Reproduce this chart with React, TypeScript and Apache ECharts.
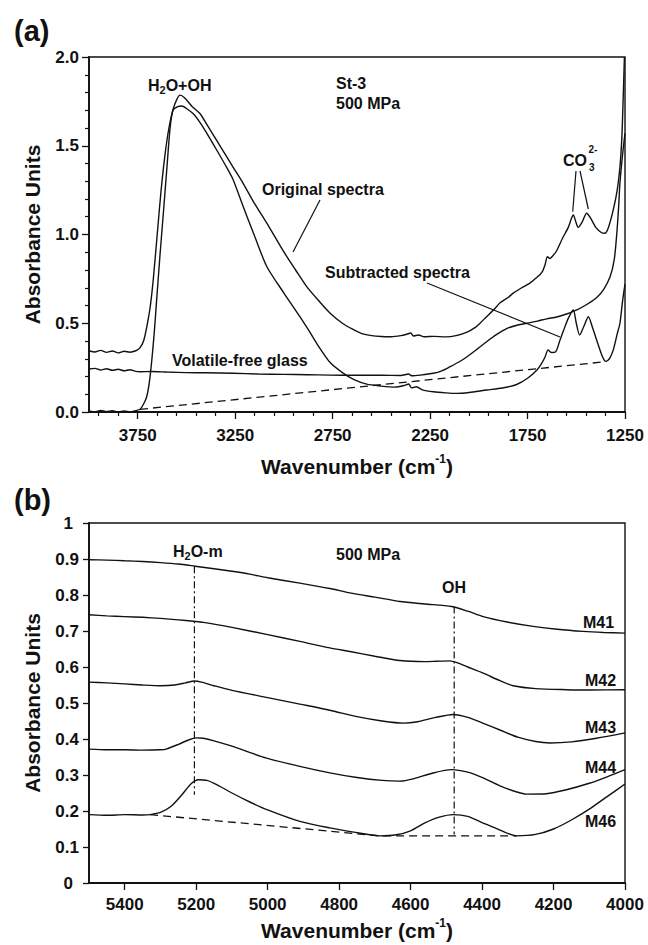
import React, { useEffect, useRef } from "react";
import * as echarts from "echarts";

const FONT = '"Liberation Sans", Arial, Helvetica, sans-serif';
const INK = "#111";

// ---------- Panel (a): wavenumber (cm-1), absorbance ----------
const originalSpectrum: [number, number][] = [
  [4000, 0.345], [3970, 0.338], [3940, 0.347], [3910, 0.336], [3880, 0.344], [3850, 0.333],
  [3820, 0.342], [3790, 0.337], [3760, 0.345], [3740, 0.36], [3720, 0.4], [3700, 0.5],
  [3685, 0.6], [3670, 0.75], [3650, 1.0], [3630, 1.25], [3610, 1.45], [3590, 1.6],
  [3570, 1.7], [3550, 1.76], [3533, 1.785], [3510, 1.77], [3470, 1.72], [3430, 1.68],
  [3390, 1.61], [3345, 1.53], [3300, 1.45], [3261, 1.38], [3210, 1.29], [3159, 1.19],
  [3080, 1.05], [3005, 0.91], [2940, 0.8], [2883, 0.706], [2820, 0.625], [2764, 0.558],
  [2700, 0.5], [2650, 0.468], [2600, 0.442], [2550, 0.43], [2500, 0.425], [2450, 0.424],
  [2400, 0.43], [2370, 0.438], [2350, 0.445], [2335, 0.428], [2310, 0.434], [2280, 0.424],
  [2230, 0.426], [2170, 0.423], [2117, 0.43], [2060, 0.45], [2020, 0.475], [1994, 0.5],
  [1960, 0.537], [1920, 0.58], [1891, 0.615], [1850, 0.645], [1823, 0.67], [1780, 0.7],
  [1740, 0.725], [1700, 0.76], [1675, 0.79], [1660, 0.83], [1648, 0.875], [1635, 0.865],
  [1620, 0.88], [1600, 0.91], [1570, 0.98], [1541, 1.04], [1525, 1.09], [1515, 1.11],
  [1502, 1.07], [1490, 1.04], [1470, 1.07], [1447, 1.12], [1425, 1.09], [1400, 1.04],
  [1370, 1.01], [1353, 1.007], [1335, 1.04], [1310, 1.14], [1290, 1.25], [1276, 1.38],
  [1266, 1.55], [1259, 1.78], [1253, 2.0],
];

const subtractedSpectrum: [number, number][] = [
  [4000, 0.006], [3970, 0.0], [3940, 0.009], [3910, 0.002], [3880, 0.007], [3850, 0.0],
  [3820, 0.006], [3790, 0.001], [3760, 0.008], [3738, 0.015], [3720, 0.045], [3704, 0.086],
  [3690, 0.17], [3678, 0.29], [3665, 0.45], [3653, 0.63], [3636, 0.88], [3620, 1.1],
  [3600, 1.38], [3584, 1.6], [3569, 1.7], [3545, 1.72], [3524, 1.724], [3500, 1.71],
  [3465, 1.68], [3430, 1.63], [3390, 1.56], [3345, 1.476], [3300, 1.39], [3261, 1.31],
  [3210, 1.16], [3150, 0.99], [3088, 0.82], [3000, 0.67], [2918, 0.537], [2870, 0.455],
  [2832, 0.387], [2764, 0.28], [2700, 0.222], [2640, 0.182], [2575, 0.157], [2500, 0.146],
  [2430, 0.14], [2380, 0.15], [2360, 0.158], [2345, 0.136], [2320, 0.142], [2290, 0.125],
  [2233, 0.114], [2170, 0.108], [2114, 0.105], [2050, 0.11], [1960, 0.124], [1880, 0.135],
  [1806, 0.155], [1750, 0.19], [1703, 0.235], [1680, 0.27], [1660, 0.31], [1645, 0.35],
  [1628, 0.335], [1605, 0.34], [1585, 0.4], [1565, 0.46], [1540, 0.53], [1515, 0.575],
  [1500, 0.5], [1483, 0.434], [1462, 0.48], [1438, 0.537], [1415, 0.47], [1390, 0.387],
  [1365, 0.31], [1348, 0.285], [1330, 0.3], [1310, 0.35], [1290, 0.44], [1276, 0.5],
  [1263, 0.62], [1250, 0.72],
];

const glassSpectrum: [number, number][] = [
  [4000, 0.242], [3970, 0.246], [3940, 0.236], [3910, 0.244], [3880, 0.235], [3850, 0.241],
  [3820, 0.232], [3790, 0.238], [3760, 0.229], [3738, 0.227], [3680, 0.228], [3600, 0.225],
  [3500, 0.222], [3400, 0.221], [3261, 0.218], [3130, 0.214], [3000, 0.212], [2880, 0.21],
  [2764, 0.208], [2640, 0.207], [2500, 0.207], [2400, 0.206], [2360, 0.214], [2345, 0.204],
  [2300, 0.208], [2233, 0.218], [2190, 0.232], [2148, 0.255], [2100, 0.283], [2062, 0.31],
  [2010, 0.353], [1960, 0.396], [1910, 0.436], [1857, 0.47], [1800, 0.49], [1755, 0.5],
  [1700, 0.512], [1652, 0.525], [1600, 0.535], [1550, 0.552], [1497, 0.575], [1440, 0.61],
  [1395, 0.645], [1360, 0.69], [1327, 0.76], [1305, 0.86], [1292, 1.007], [1283, 1.15],
  [1276, 1.29], [1267, 1.4], [1260, 1.476], [1250, 1.57],
];

const baselineA: [number, number][] = [[3738, 0.015], [1353, 0.283]];

// ---------- Panel (b) ----------
const m41: [number, number][] = [
  [5500, 0.898], [5450, 0.897], [5400, 0.895], [5350, 0.893], [5300, 0.89], [5250, 0.886],
  [5203, 0.88], [5150, 0.873], [5100, 0.866], [5050, 0.858], [5000, 0.848], [4910, 0.833],
  [4826, 0.818], [4770, 0.806], [4700, 0.794], [4630, 0.782], [4560, 0.775], [4485, 0.768],
  [4440, 0.755], [4397, 0.74], [4330, 0.725], [4257, 0.713], [4190, 0.705], [4117, 0.699],
  [4060, 0.696], [4000, 0.694],
];
const m42: [number, number][] = [
  [5500, 0.745], [5450, 0.742], [5400, 0.74], [5350, 0.738], [5300, 0.735], [5250, 0.731],
  [5208, 0.727], [5180, 0.724], [5100, 0.71], [5000, 0.69], [4910, 0.671], [4826, 0.653],
  [4770, 0.643], [4700, 0.63], [4630, 0.618], [4560, 0.615], [4527, 0.616], [4490, 0.617],
  [4470, 0.612], [4440, 0.6], [4397, 0.583], [4350, 0.562], [4313, 0.548], [4250, 0.54],
  [4164, 0.537], [4100, 0.536], [4000, 0.537],
];
const m43: [number, number][] = [
  [5500, 0.558], [5450, 0.556], [5400, 0.553], [5350, 0.55], [5300, 0.548], [5260, 0.55],
  [5230, 0.556], [5205, 0.561], [5185, 0.558], [5150, 0.548], [5100, 0.535], [5000, 0.515],
  [4910, 0.497], [4826, 0.48], [4750, 0.462], [4680, 0.45], [4620, 0.444], [4580, 0.448],
  [4530, 0.46], [4480, 0.468], [4440, 0.46], [4400, 0.445], [4350, 0.425], [4300, 0.405],
  [4250, 0.393], [4210, 0.389], [4150, 0.392], [4080, 0.402], [4000, 0.417],
];
const m44: [number, number][] = [
  [5500, 0.372], [5450, 0.37], [5400, 0.37], [5350, 0.369], [5300, 0.37], [5284, 0.372],
  [5250, 0.385], [5220, 0.398], [5200, 0.403], [5180, 0.402], [5150, 0.395], [5100, 0.38],
  [5003, 0.347], [4910, 0.324], [4826, 0.306], [4750, 0.293], [4680, 0.285], [4630, 0.283],
  [4590, 0.29], [4540, 0.305], [4486, 0.315], [4440, 0.308], [4397, 0.292], [4350, 0.27],
  [4300, 0.252], [4276, 0.247], [4220, 0.248], [4164, 0.259], [4100, 0.277], [4050, 0.295],
  [4000, 0.315],
];
const m46: [number, number][] = [
  [5500, 0.19], [5450, 0.188], [5400, 0.19], [5350, 0.189], [5329, 0.19], [5300, 0.196],
  [5270, 0.213], [5240, 0.245], [5215, 0.275], [5194, 0.287], [5170, 0.285], [5140, 0.272],
  [5100, 0.25], [5050, 0.225], [5000, 0.203], [4910, 0.171], [4826, 0.153], [4750, 0.14],
  [4686, 0.131], [4640, 0.134], [4600, 0.145], [4560, 0.167], [4520, 0.183], [4480, 0.19],
  [4440, 0.185], [4400, 0.168], [4350, 0.147], [4303, 0.131], [4250, 0.135], [4200, 0.15],
  [4150, 0.175], [4100, 0.205], [4050, 0.24], [4000, 0.275],
];
const baselineB: [number, number][] = [[5329, 0.19], [4686, 0.131], [4303, 0.131]];
const h2omMarker: [number, number][] = [[5205, 0.88], [5205, 0.245]];
const ohMarker: [number, number][] = [[4478, 0.768], [4478, 0.135]];

// ---------- Tick values ----------
const aMajorTicks = [1250, 1750, 2250, 2750, 3250, 3750];
const aMinorTicks = [
  1350, 1450, 1550, 1650, 1850, 1950, 2050, 2150, 2350, 2450, 2550, 2650,
  2850, 2950, 3050, 3150, 3350, 3450, 3550, 3650, 3850, 3950,
];
const bXTicks = [4000, 4200, 4400, 4600, 4800, 5000, 5200, 5400];

const spectrumStyle = { color: INK, width: 1.4 };

function lineSeries(data: [number, number][], xi: number, yi: number, extra: any = {}) {
  return {
    type: "line",
    data,
    xAxisIndex: xi,
    yAxisIndex: yi,
    symbol: "none",
    smooth: 0.25,
    lineStyle: { ...spectrumStyle },
    silent: true,
    ...extra,
  };
}

const txt = (text: string, x: number, y: number, size = 16, extra: any = {}) => ({
  type: "text",
  x,
  y,
  silent: true,
  style: {
    text,
    fill: INK,
    font: `bold ${size}px ${FONT}`,
    verticalAlign: "middle",
    align: "left",
    ...extra,
  },
});

const richSub = {
  m: { fontSize: 16, fontWeight: "bold", fontFamily: FONT, color: INK, lineHeight: 20 },
  s: { fontSize: 11, fontWeight: "bold", fontFamily: FONT, color: INK, lineHeight: 8, verticalAlign: "bottom" },
};

const richText = (text: string, x: number, y: number) => ({
  type: "text",
  x,
  y,
  silent: true,
  style: { text, rich: richSub, verticalAlign: "middle", align: "left", fill: INK, font: `bold 16px ${FONT}` },
});

const ln = (x1: number, y1: number, x2: number, y2: number) => ({
  type: "line",
  silent: true,
  shape: { x1, y1, x2, y2 },
  style: { stroke: INK, lineWidth: 1.2 },
});

const axisNameRich = {
  m: { fontSize: 21, fontWeight: "bold", fontFamily: FONT, color: INK, lineHeight: 26 },
  s: { fontSize: 12, fontWeight: "bold", fontFamily: FONT, color: INK, lineHeight: 12, verticalAlign: "top" },
};

const tickLabel = { color: INK, fontSize: 17, fontWeight: "bold", fontFamily: FONT };

export default function App() {
  const ref = useRef<HTMLDivElement>(null);
  useEffect(() => {
    document.body.style.margin = "0";
    if (!ref.current) return;
    const chart = echarts.init(ref.current, null, { renderer: "svg" });
    const option: any = {
      animation: false,
      backgroundColor: "#fff",
      grid: [
        { left: 89, top: 57, width: 536, height: 355, show: true, borderColor: INK, borderWidth: 1.4, backgroundColor: "transparent" },
        { left: 89, top: 523, width: 536, height: 360, show: true, borderColor: INK, borderWidth: 1.4, backgroundColor: "transparent" },
      ],
      xAxis: [
        {
          type: "value", gridIndex: 0, inverse: true, min: 1250, max: 4000, position: "bottom",
          axisLine: { show: true, onZero: false, lineStyle: { color: INK, width: 1.8 } },
          axisTick: { show: true, inside: false, length: 7, customValues: aMajorTicks, lineStyle: { color: INK, width: 1.3 } },
          axisLabel: { ...tickLabel, margin: 15, customValues: aMajorTicks, formatter: (v: number) => String(v) },
          splitLine: { show: false },
          name: "{m|Wavenumber (cm}{s|-1}{m|)}",
          nameLocation: "middle",
          nameGap: 41,
          nameTextStyle: { rich: axisNameRich },
        },
        {
          type: "value", gridIndex: 0, inverse: true, min: 1250, max: 4000, position: "bottom",
          axisLine: { show: false, onZero: false },
          axisTick: { show: true, inside: false, length: 4, customValues: aMinorTicks, lineStyle: { color: INK, width: 1.2 } },
          axisLabel: { show: false },
          splitLine: { show: false },
        },
        {
          type: "value", gridIndex: 1, inverse: true, min: 4000, max: 5500, interval: 200, position: "bottom",
          axisLine: { show: true, onZero: false, lineStyle: { color: INK, width: 1.8 } },
          axisTick: { show: true, inside: false, length: 7, customValues: bXTicks, lineStyle: { color: INK, width: 1.3 } },
          axisLabel: { ...tickLabel, margin: 13, customValues: bXTicks, formatter: (v: number) => String(v) },
          splitLine: { show: false },
          name: "{m|Wavenumber (cm}{s|-1}{m|)}",
          nameLocation: "middle",
          nameGap: 34,
          nameTextStyle: { rich: axisNameRich },
        },
      ],
      yAxis: [
        {
          type: "value", gridIndex: 0, min: 0, max: 2, interval: 0.5,
          axisLine: { show: true, onZero: false, lineStyle: { color: INK, width: 1.8 } },
          axisTick: { show: true, inside: false, length: 7, lineStyle: { color: INK, width: 1.3 } },
          minorTick: { show: true, splitNumber: 5, length: 4, lineStyle: { color: INK, width: 1.2 } },
          axisLabel: { ...tickLabel, margin: 10, formatter: (v: number) => v.toFixed(1) },
          splitLine: { show: false },
          minorSplitLine: { show: false },
          name: "Absorbance Units",
          nameLocation: "middle",
          nameGap: 46,
          nameTextStyle: { fontSize: 21, fontWeight: "bold", fontFamily: FONT, color: INK },
        },
        {
          type: "value", gridIndex: 1, min: 0, max: 1, interval: 0.1,
          axisLine: { show: true, onZero: false, lineStyle: { color: INK, width: 1.8 } },
          axisTick: { show: true, inside: false, length: 6, lineStyle: { color: INK, width: 1.3 } },
          axisLabel: {
            ...tickLabel, margin: 10,
            formatter: (v: number) =>
              Math.abs(v) < 1e-9 ? "{w|0}" : Math.abs(v - 1) < 1e-9 ? "{w|1}" : v.toFixed(1),
            rich: { w: { ...tickLabel, padding: [0, 6, 0, 0] } },
          },
          splitLine: { show: false },
          name: "Absorbance Units",
          nameLocation: "middle",
          nameGap: 46,
          nameTextStyle: { fontSize: 21, fontWeight: "bold", fontFamily: FONT, color: INK },
        },
      ],
      series: [
        lineSeries(originalSpectrum, 0, 0),
        lineSeries(glassSpectrum, 0, 0),
        lineSeries(subtractedSpectrum, 0, 0),
        lineSeries(baselineA, 0, 0, { smooth: false, lineStyle: { color: INK, width: 1.3, type: [8, 5] } }),
        lineSeries(m41, 2, 1),
        lineSeries(m42, 2, 1),
        lineSeries(m43, 2, 1),
        lineSeries(m44, 2, 1),
        lineSeries(m46, 2, 1),
        lineSeries(baselineB, 2, 1, { smooth: false, lineStyle: { color: INK, width: 1.3, type: [8, 5] } }),
        lineSeries(h2omMarker, 2, 1, { smooth: false, lineStyle: { color: INK, width: 1.2, type: [7, 3, 2, 3] } }),
        lineSeries(ohMarker, 2, 1, { smooth: false, lineStyle: { color: INK, width: 1.2, type: [7, 3, 2, 3] } }),
      ],
      graphic: [
        txt("(a)", 14, 31, 29),
        txt("(b)", 14, 500, 29),
        richText("{m|H}{s|2}{m|O+OH}", 148, 85),
        txt("St-3", 336, 83.5),
        txt("500 MPa", 336, 103.5),
        txt("Original spectra", 262, 189),
        ln(320, 200, 293, 252),
        txt("Subtracted spectra", 325, 272),
        ln(427, 283, 560, 337),
        txt("Volatile-free glass", 172, 360),
        txt("CO", 563, 160),
        txt("2-", 588.5, 149, 10),
        txt("3", 589, 167, 10),
        ln(576, 171, 572.7, 211.7),
        ln(580, 171, 588.3, 209),
        richText("{m|H}{s|2}{m|O-m}", 173, 551),
        txt("500 MPa", 336, 554),
        txt("OH", 442, 587),
        txt("M41", 583, 622.5),
        txt("M42", 585, 680),
        txt("M43", 585, 727.5),
        txt("M44", 585, 767),
        txt("M46", 585, 821),
      ],
    };
    chart.setOption(option);
    return () => chart.dispose();
  }, []);
  return <div ref={ref} style={{ width: 648, height: 945 }} />;
}
